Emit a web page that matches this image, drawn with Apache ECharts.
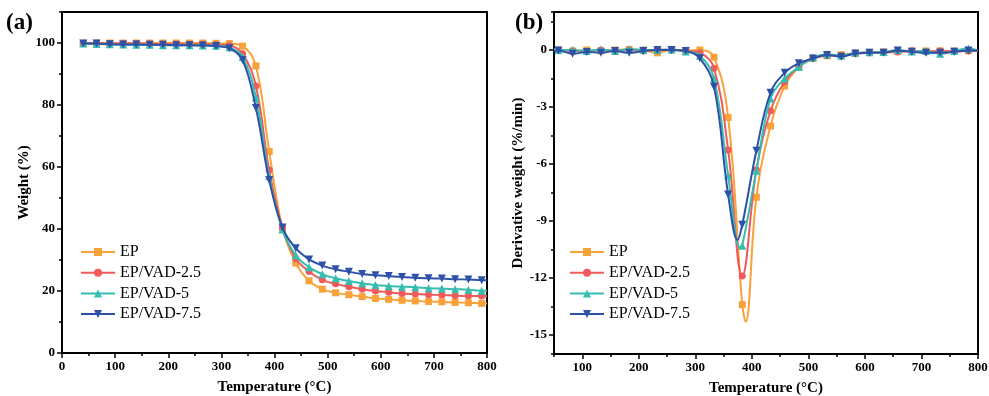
<!DOCTYPE html>
<html>
<head>
<meta charset="utf-8">
<script src="https://cdn.jsdelivr.net/npm/echarts@6/dist/echarts.min.js"></script>
<style>
  html, body { margin: 0; padding: 0; background: #fff; }
  #chart { width: 989px; height: 396px; }
</style>
</head>
<body>
<div id="chart"></div>
<script>
// (a) TGA weight curves
const tgaT = [40, 65, 90, 115, 140, 165, 190, 215, 240, 265, 290, 315, 340, 365, 390, 415, 440, 465, 490, 515, 540, 565, 590, 615, 640, 665, 690, 715, 740, 765, 790, 800]
const tgaEP = [99.9, 100, 100, 100, 100, 100, 100, 100, 100, 100, 99.9, 99.8, 99.0, 92.6, 65.0, 40.3, 29.0, 23.3, 20.6, 19.4, 18.8, 18.2, 17.6, 17.3, 17.0, 16.8, 16.6, 16.5, 16.3, 16.2, 16.0, 16.0]
const tgaVAD25 = [99.9, 99.9, 99.8, 99.8, 99.8, 99.7, 99.7, 99.7, 99.6, 99.6, 99.5, 99.2, 96.5, 86.1, 59.0, 40.3, 30.5, 26.3, 23.6, 22.3, 21.4, 20.6, 20.0, 19.6, 19.2, 19.0, 18.8, 18.7, 18.5, 18.4, 18.4, 18.3]
const tgaVAD5 = [99.8, 99.7, 99.6, 99.5, 99.4, 99.4, 99.3, 99.3, 99.3, 99.2, 99.1, 98.6, 95.5, 82.5, 57.0, 39.8, 31.5, 27.7, 25.4, 24.1, 23.2, 22.5, 21.9, 21.6, 21.4, 21.2, 20.9, 20.8, 20.6, 20.4, 20.1, 20.1]
const tgaVAD75 = [99.8, 99.8, 99.6, 99.5, 99.5, 99.4, 99.4, 99.3, 99.3, 99.2, 99.0, 98.3, 94.5, 79.0, 55.8, 40.5, 33.8, 30.2, 28.2, 27.0, 26.2, 25.5, 25.1, 24.8, 24.5, 24.3, 24.1, 24.0, 23.8, 23.7, 23.5, 23.5]

// (b) DTG curves
const dtgT = [50, 58, 83, 108, 133, 158, 183, 208, 233, 258, 283, 308, 333, 358, 383, 408, 433, 458, 483, 508, 533, 558, 583, 608, 633, 658, 683, 708, 733, 758, 783, 800]
const dtgEP = [0, 0, -0.05, 0, -0.05, 0, 0.03, 0, -0.15, 0.02, -0.02, 0, -0.38, -3.55, -13.4, -7.75, -4.0, -1.9, -0.9, -0.45, -0.3, -0.25, -0.18, -0.12, -0.1, -0.08, -0.05, -0.05, -0.05, -0.05, -0.02, -0.02]
const dtgVAD25 = [0, -0.02, -0.05, -0.08, 0, -0.05, 0, -0.05, 0.02, 0, -0.05, -0.15, -0.96, -5.26, -11.9, -6.3, -3.2, -1.67, -0.9, -0.42, -0.3, -0.28, -0.2, -0.15, -0.12, -0.1, -0.05, -0.1, -0.05, -0.08, -0.05, -0.05]
const dtgVAD5 = [0.05, 0, 0, -0.05, 0.02, -0.05, 0.05, 0, 0, 0.02, -0.08, -0.3, -1.5, -6.6, -10.3, -6.35, -2.55, -1.5, -0.9, -0.4, -0.22, -0.3, -0.15, -0.12, -0.1, 0, -0.08, -0.05, -0.2, -0.05, 0.08, -0.02]
const dtgVAD75 = [-0.05, -0.02, -0.2, -0.1, -0.15, -0.05, -0.15, -0.05, 0, 0, -0.05, -0.44, -1.93, -7.6, -9.2, -5.3, -2.25, -1.2, -0.7, -0.45, -0.26, -0.35, -0.18, -0.14, -0.14, -0.03, -0.09, -0.14, -0.14, -0.09, -0.03, -0.03]
// peak minima that fall between marker points
const peakEP = [389, -14.3]
const peakVAD5 = [379, -10.4]
const peakVAD75 = [375, -10.0]

const names = ['EP', 'EP/VAD-2.5', 'EP/VAD-5', 'EP/VAD-7.5']
const colors = ['#f9a23a', '#f05a5a', '#35bdb0', '#2c51a7']
const symbols = ['rect', 'circle', 'triangle', 'path://M0,0L10,0L5,9Z']

const font = 'Liberation Serif'

const zip = (xs, ys, extra) => {
  const pts = xs.map((x, i) => [x, ys[i]])
  if (extra) pts.push(extra)
  return pts.sort((a, b) => a[0] - b[0])
}

const makeSeries = (i, data, gi, start) => ({
  name: names[i],
  type: 'line',
  xAxisIndex: gi * 2,
  yAxisIndex: gi * 2,
  data: data,
  smooth: 0.4,
  symbol: symbols[i],
  symbolSize: v => ((v[0] - start) % 25 === 0 ? (i >= 2 ? 8 : 7) : 0),
  lineStyle: { width: 2, color: colors[i] },
  itemStyle: { color: colors[i] },
  z: 2 + i
})

const labelStyle = extra => Object.assign({
  color: '#000', fontFamily: font, fontWeight: 'bold', fontSize: 13, margin: 7
}, extra)

const mainAxis = (gi, extra) => Object.assign({
  type: 'value',
  gridIndex: gi,
  axisLine: { show: true, onZero: false, lineStyle: { color: '#000', width: 2 } },
  axisTick: { show: true, length: 5, lineStyle: { color: '#000', width: 1.5 } },
  axisLabel: labelStyle(),
  splitLine: { show: false },
  nameLocation: 'middle',
  nameTextStyle: { color: '#000', fontFamily: font, fontWeight: 'bold', fontSize: 15 }
}, extra)

const minorAxis = (gi, extra) => Object.assign({
  type: 'value',
  gridIndex: gi,
  axisLine: { show: false, onZero: false },
  axisTick: { show: true, length: 3, lineStyle: { color: '#000', width: 1.5 } },
  axisLabel: { show: false },
  splitLine: { show: false }
}, extra)

const legendCfg = left => ({
  orient: 'vertical',
  left: left,
  top: 244,
  padding: 0,
  itemWidth: 34,
  itemHeight: 10,
  itemGap: 4.7,
  textStyle: { color: '#000', fontFamily: font, fontSize: 16, lineHeight: 16 },
  data: names
})

const chart = echarts.init(document.getElementById('chart'))

chart.setOption({
  animation: false,
  backgroundColor: '#fff',
  grid: [
    { left: 62, top: 12, width: 425, height: 341, containLabel: false, outerBoundsMode: 'none',
      show: true, borderColor: '#000', borderWidth: 2 },
    { left: 554, top: 12, width: 424, height: 342, containLabel: false, outerBoundsMode: 'none',
      show: true, borderColor: '#000', borderWidth: 2 }
  ],
  xAxis: [
    mainAxis(0, { position: 'bottom', min: 0, max: 800, interval: 100, name: 'Temperature (°C)', nameGap: 27 }),
    minorAxis(0, { position: 'bottom', min: 0, max: 800, interval: 50 }),
    mainAxis(1, { position: 'bottom', min: 50, max: 800, minInterval: 100, maxInterval: 100, splitNumber: 7,
      name: 'Temperature (°C)', nameGap: 27, axisLabel: labelStyle({ showMinLabel: false }) }),
    minorAxis(1, { position: 'bottom', min: 50, max: 800, interval: 50 })
  ],
  yAxis: [
    mainAxis(0, { position: 'left', min: 0, max: 110, interval: 20, name: 'Weight (%)', nameGap: 28,
      axisLabel: labelStyle({ showMaxLabel: false }) }),
    minorAxis(0, { position: 'left', min: 0, max: 110, interval: 10 }),
    mainAxis(1, { position: 'left', min: -16, max: 2, minInterval: 3, maxInterval: 3, splitNumber: 6,
      name: 'Derivative weight (%/min)', nameGap: 26,
      axisLabel: labelStyle({ showMinLabel: false, showMaxLabel: false }) }),
    minorAxis(1, { position: 'left', min: -16, max: 2, minInterval: 1.5, maxInterval: 1.5, splitNumber: 12 })
  ],
  legend: [
    Object.assign(legendCfg(80), { id: 'la' }),
    Object.assign(legendCfg(569), { id: 'lb' })
  ],
  graphic: [
    { type: 'text', left: 6, top: 12, style: { text: '(a)', font: 'bold 23px "Liberation Serif"', fill: '#000' } },
    { type: 'text', left: 515, top: 12, style: { text: '(b)', font: 'bold 23px "Liberation Serif"', fill: '#000' } }
  ],
  series: [
    makeSeries(0, zip(tgaT, tgaEP), 0, 40),
    makeSeries(1, zip(tgaT, tgaVAD25), 0, 40),
    makeSeries(2, zip(tgaT, tgaVAD5), 0, 40),
    makeSeries(3, zip(tgaT, tgaVAD75), 0, 40),
    makeSeries(0, zip(dtgT, dtgEP, peakEP), 1, 58),
    makeSeries(1, zip(dtgT, dtgVAD25), 1, 58),
    makeSeries(2, zip(dtgT, dtgVAD5, peakVAD5), 1, 58),
    makeSeries(3, zip(dtgT, dtgVAD75, peakVAD75), 1, 58)
  ]
})
</script>
</body>
</html>
